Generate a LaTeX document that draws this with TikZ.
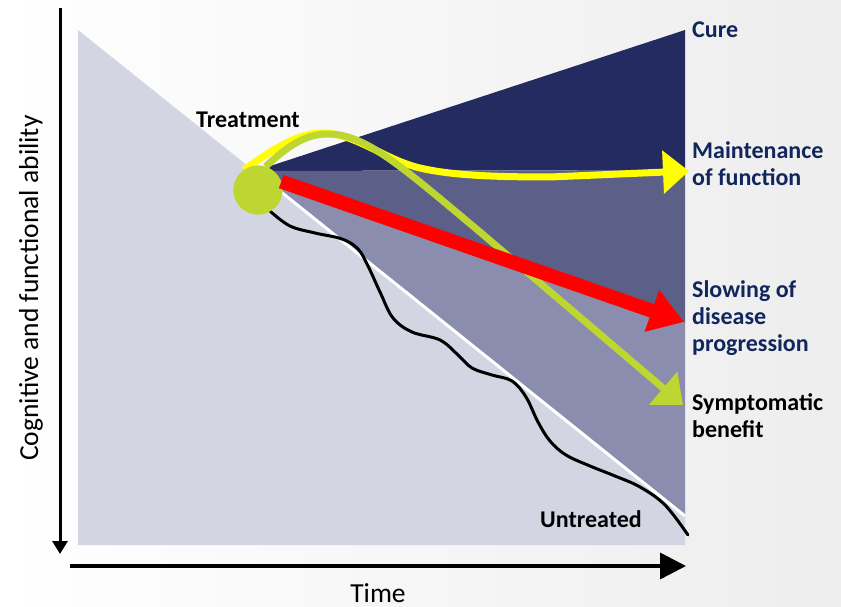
\documentclass[tikz,border=0pt]{standalone}
\usepackage{fontspec}
\setmainfont{Carlito}
\usetikzlibrary{arrows.meta, positioning, calc}

\definecolor{navyD}{HTML}{242B60}
\definecolor{navyM}{HTML}{5C6089}
\definecolor{navyL}{HTML}{8A8DAD}
\definecolor{paleB}{HTML}{D3D5E2}
\definecolor{navyT}{HTML}{10265C}
\definecolor{limeG}{HTML}{BED631}
\definecolor{yelA}{HTML}{FFFF00}
\definecolor{redA}{HTML}{FF0000}

\tikzset{
  lbl/.style={font=\fontsize{24}{27}\selectfont\bfseries, align=left,
              inner sep=0pt},
  outcome/.style={lbl, anchor=west, text=navyT},
  axis/.style={line width=3.5pt, -{Triangle[length=26pt, width=26pt]}},
  axtitle/.style={font=\fontsize{27.5}{30}\selectfont, inner sep=0pt},
  path1/.style={line width=7pt, -{Triangle[length=26pt, width=42pt]}},
}

\begin{document}
\begin{tikzpicture}[x=1pt, y=-1pt]

  \useasboundingbox (0,0) rectangle (841,607);
  \shade[shading angle=60, left color=white, right color=black!7]
    (0,0) rectangle (841,607);

  % decline areas
  \coordinate (T) at (255,171);
  \fill[paleB] (78,30) -- (685,516) -- (685,545) -- (78,545) -- cycle;
  \fill[navyD] (T) -- (685,30) -- (685,170) -- cycle;
  \fill[navyM] (T) -- (685,170) -- (685,323) -- cycle;
  \fill[navyL] (T) -- (685,323) -- (685,516) -- cycle;
  \draw[white, line width=3pt] (T) -- (685,516);

  % axes
  \coordinate (ytop) at (60,8);
  \coordinate (ybot) at (60,554);
  \coordinate (xl) at (70,566);
  \coordinate (xr) at (686,566);
  \draw[line width=3pt, -{Triangle[length=13pt, width=15pt]}] (ytop) -- (ybot);
  \draw[axis] (xl) -- (xr);
  \node[axtitle, rotate=90] (ylab) at (31,288) {Cognitive and functional ability};
  \node[axtitle, anchor=base] (time) at (378,602) {Time};

  % treatment start and paths
  \node[circle, fill=limeG, minimum size=49pt, inner sep=0pt] (treat) at (258,190) {};

  \coordinate (untEnd) at (688,535);
  \draw[line width=3pt, line cap=round] plot[smooth, tension=0.6] coordinates {
    (treat.-60) (290,226) (315,233) (342,239) (358,249) (368,266)
    (380,292) (393,318) (412,332) (440,340) (458,355) (472,368)
    (492,375) (512,381) (526,397) (538,422) (550,441) (566,455)
    (590,466) (615,476) (640,487) (665,505) (untEnd)};

  \coordinate (yelEnd) at (689,171);
  \coordinate (grnEnd) at (683,405);
  \coordinate (redEnd) at (684,322);
  \draw[path1, yelA] (treat.125) .. controls (275,148) and (298,133) .. (322,133)
    .. controls (355,133) and (385,160) .. (420,168)
    .. controls (450,175) and (490,177) .. (550,177) -- (yelEnd);
  \draw[path1, limeG] (treat.72) .. controls (288,146) and (305,134) .. (328,134)
    .. controls (365,134) and (400,165) .. (480,232) -- (grnEnd);
  \node[circle, fill=limeG, minimum size=49pt, inner sep=0pt] at (treat) {};
  \draw[line width=14pt, redA, -{Triangle[length=34pt, width=42pt]}] (treat.20) -- (redEnd);

  % labels
  \node[outcome] (cure) at (692,30) {Cure};
  \node[outcome] (maint) at (692,164) {Maintenance\\of function};
  \node[outcome] (slow) at (692,318) {Slowing of\\disease\\progression};
  \node[lbl, anchor=west] (sympt) at (692,416) {Symptomatic\\benefit};
  \node[lbl] (trtlab) at (248,120) {Treatment};
  \node[lbl] (untlab) at (591,519) {Untreated};

\end{tikzpicture}
\end{document}
